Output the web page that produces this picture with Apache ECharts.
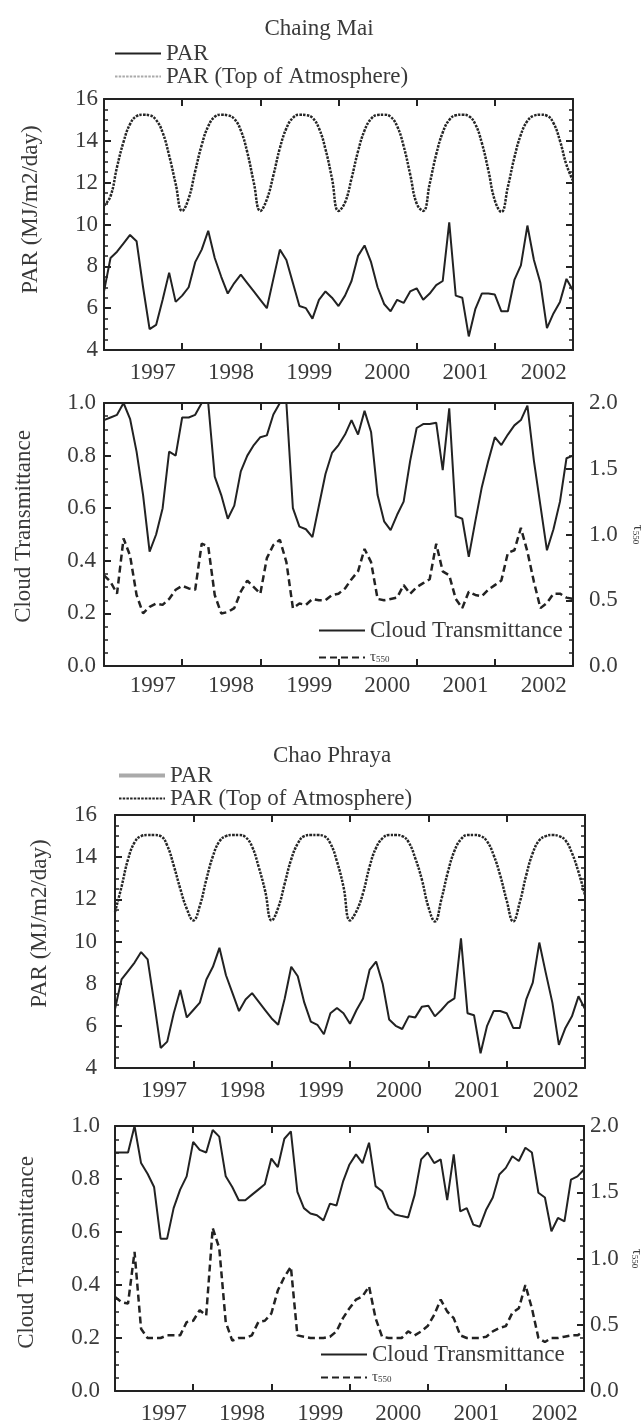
<!DOCTYPE html>
<html>
<head>
<meta charset="utf-8">
<title>PAR and cloud transmittance - Chaing Mai / Chao Phraya</title>
<script src="https://cdn.jsdelivr.net/npm/echarts@6/dist/echarts.min.js"></script>
<style>
  html, body { margin: 0; padding: 0; background: #fff; }
  #chart { width: 643px; height: 1423px; }
</style>
</head>
<body>
<div id="chart"></div>
<script>
// month index, 0 = Jan 1997 ... 72 = Jan 2003
const months = Array.from({ length: 73 }, (_, i) => i)
const yearLabels = ['1997', '1998', '1999', '2000', '2001', '2002']

// ---- Chaing Mai ----
const cmPar = [
  6.8, 8.4, 8.7, 9.1, 9.5, 9.2, 7.0, 5.0, 5.2, 6.4, 7.7, 6.3,
  6.6, 7.0, 8.2, 8.8, 9.7, 8.4, 7.5, 6.7, 7.2, 7.6, 7.2, 6.8,
  6.4, 6.0, 7.4, 8.8, 8.3, 7.2, 6.1, 6.0, 5.5, 6.4, 6.8, 6.5,
  6.1, 6.6, 7.3, 8.5, 9.0, 8.2, 7.0, 6.2, 5.85, 6.4, 6.25, 6.8,
  6.95, 6.4, 6.7, 7.1, 7.3, 10.1, 6.6, 6.5, 4.65, 5.95, 6.7, 6.7,
  6.65, 5.85, 5.85, 7.35, 8.05, 9.95, 8.3, 7.2, 5.05, 5.75, 6.3, 7.4,
  6.85
]
const cmToa = [
  10.9, 11.35, 12.75, 13.95, 14.8, 15.18, 15.25, 15.22, 15.0, 14.4, 13.3, 11.95,
  10.65, 11.25, 12.55, 13.8, 14.7, 15.15, 15.25, 15.22, 15.05, 14.5, 13.45, 12.0,
  10.65, 11.2, 12.35, 13.65, 14.6, 15.1, 15.25, 15.23, 15.1, 14.6, 13.6, 12.2,
  10.65, 11.05, 12.2, 13.5, 14.5, 15.05, 15.24, 15.25, 15.15, 14.7, 13.75, 12.4,
  11.0, 10.65, 11.95, 13.35, 14.4, 15.0, 15.22, 15.25, 15.18, 14.8, 13.9, 12.6,
  11.15, 10.6, 11.8, 13.2, 14.3, 14.95, 15.2, 15.25, 15.2, 14.85, 14.0, 12.85,
  12.1
]
const cmCloud = [
  0.935, 0.945, 0.955, 1.0, 0.94, 0.815, 0.65, 0.435, 0.5, 0.6, 0.815, 0.8,
  0.945, 0.945, 0.955, 1.0, 1.0, 0.72, 0.65, 0.56, 0.61, 0.74, 0.8, 0.84,
  0.87, 0.877, 0.956, 1.0, 1.0, 0.6, 0.53, 0.52, 0.49, 0.61, 0.73, 0.81,
  0.84, 0.88, 0.935, 0.88, 0.97, 0.89, 0.65, 0.55, 0.517, 0.575, 0.625, 0.78,
  0.905, 0.92, 0.92, 0.925, 0.745, 0.98, 0.57, 0.56, 0.415, 0.55, 0.68, 0.78,
  0.87, 0.84, 0.88, 0.915, 0.935, 0.99, 0.78, 0.61, 0.44, 0.52, 0.625, 0.79,
  0.8
]
const cmTau = [
  0.69, 0.64, 0.55, 0.97, 0.84, 0.54, 0.4, 0.45, 0.475, 0.465, 0.51, 0.58,
  0.61, 0.59, 0.58, 0.93, 0.91, 0.54, 0.4, 0.41, 0.44, 0.565, 0.65, 0.6,
  0.55, 0.82, 0.92, 0.96, 0.79, 0.44, 0.475, 0.465, 0.51, 0.5, 0.5, 0.54,
  0.55, 0.59, 0.66, 0.72, 0.89, 0.79, 0.51, 0.5, 0.51, 0.52, 0.615, 0.55,
  0.6, 0.63, 0.66, 0.93, 0.72, 0.69, 0.51, 0.44, 0.565, 0.54, 0.53, 0.58,
  0.615, 0.65, 0.86, 0.88, 1.05, 0.87, 0.64, 0.44, 0.48, 0.55, 0.55, 0.52,
  0.51
]

// ---- Chao Phraya ----
const cpPar = [
  6.8, 8.2, 8.6, 9.0, 9.5, 9.15, 7.1, 4.95, 5.25, 6.6, 7.7, 6.4,
  6.75, 7.1, 8.2, 8.8, 9.7, 8.4, 7.55, 6.7, 7.25, 7.55, 7.15, 6.75,
  6.35, 6.05, 7.3, 8.8, 8.35, 7.1, 6.2, 6.05, 5.6, 6.6, 6.85, 6.6,
  6.1, 6.75, 7.3, 8.65, 9.05, 8.0, 6.3, 6.0, 5.85, 6.45, 6.4, 6.9,
  6.95, 6.45, 6.75, 7.1, 7.3, 10.15, 6.6, 6.5, 4.7, 6.0, 6.7, 6.7,
  6.6, 5.9, 5.9, 7.25, 8.05, 9.95, 8.5, 7.1, 5.1, 5.9, 6.45, 7.4,
  6.8
]
const cpToa = [
  11.4, 12.6, 13.9, 14.7, 15.0, 15.05, 15.05, 15.0, 14.55, 13.6, 12.5, 11.55,
  11.0, 11.7, 12.95, 14.05, 14.75, 15.0, 15.05, 15.05, 14.95, 14.5, 13.55, 12.4,
  11.0, 11.6, 12.75, 13.9, 14.65, 15.0, 15.05, 15.05, 15.0, 14.65, 13.8, 12.6,
  11.0, 11.45, 12.3, 13.55, 14.45, 14.9, 15.05, 15.05, 15.0, 14.7, 13.95, 12.95,
  11.65, 10.95, 12.0, 13.3, 14.3, 14.85, 15.05, 15.05, 15.0, 14.75, 14.1, 13.15,
  11.95, 10.95, 11.85, 13.15, 14.2, 14.8, 15.0, 15.05, 15.0, 14.8, 14.2, 13.3,
  12.2
]
const cpCloud = [
  0.9, 0.9, 0.9, 1.0, 0.86, 0.82, 0.77, 0.575, 0.575, 0.69, 0.76, 0.81,
  0.94, 0.91, 0.9, 0.985, 0.96, 0.81, 0.77, 0.72, 0.72, 0.74, 0.76, 0.78,
  0.877, 0.845, 0.952, 0.98, 0.751, 0.69, 0.67, 0.663, 0.644, 0.707, 0.7, 0.79,
  0.855, 0.893, 0.86, 0.937, 0.773, 0.754, 0.69, 0.666, 0.66, 0.655, 0.74, 0.874,
  0.9, 0.86, 0.874, 0.72, 0.893, 0.678, 0.69, 0.628, 0.62, 0.685, 0.73, 0.817,
  0.842, 0.886, 0.868, 0.918, 0.9, 0.748, 0.73, 0.603, 0.653, 0.64, 0.798, 0.81,
  0.836
]
const cpTau = [
  0.71, 0.67, 0.66, 1.05, 0.47, 0.4, 0.4, 0.4, 0.42, 0.42, 0.42, 0.52,
  0.53, 0.61, 0.57, 1.23, 1.08, 0.52, 0.38, 0.4, 0.4, 0.42, 0.52, 0.53,
  0.585, 0.76, 0.86, 0.937, 0.42, 0.41, 0.4, 0.4, 0.4, 0.41, 0.45, 0.55,
  0.625, 0.69, 0.714, 0.79, 0.55, 0.41, 0.4, 0.4, 0.4, 0.45, 0.42, 0.45,
  0.49, 0.575, 0.69, 0.6, 0.55, 0.42, 0.4, 0.4, 0.4, 0.41, 0.45, 0.475,
  0.49, 0.59, 0.625, 0.8, 0.625, 0.4, 0.37, 0.4, 0.4, 0.41, 0.42, 0.42,
  0.45
]

const FONT = "'Liberation Serif', 'DejaVu Serif', serif"
const INK = '#222'
const TXT = '#3a3a3a'
const tauName = '{t|τ}{s|550}'
const tauRich = {
  t: { fontFamily: FONT, fontSize: 15, color: TXT },
  s: { fontFamily: FONT, fontSize: 9, color: TXT, padding: [5, 0, 0, 0] }
}

// fixed plot boxes; outerBoundsMode none keeps them from shrinking to fit the labels
const grids = [
  { left: 104, top: 99, width: 469, height: 251, outerBoundsMode: 'none', containLabel: false },
  { left: 104, top: 403, width: 469, height: 263, outerBoundsMode: 'none', containLabel: false },
  { left: 115, top: 815, width: 470, height: 253, outerBoundsMode: 'none', containLabel: false },
  { left: 115, top: 1126, width: 469, height: 265, outerBoundsMode: 'none', containLabel: false }
]

const pairs = vals => vals.map((v, i) => [months[i], v])

// x axes: ticks at bottom, ticks at top, year labels (placed mid-year, between the ticks)
const tickAxis = (g, position) => ({
  type: 'value', gridIndex: g, position, min: 0, max: 72, interval: 12,
  axisLine: { show: true, onZero: false, lineStyle: { color: INK, width: 2 } },
  axisTick: { show: true, inside: true, length: 7, lineStyle: { color: INK, width: 2 } },
  axisLabel: { show: false },
  splitLine: { show: false }
})
const yearAt = v => {
  const k = (v - 7.5) / 12
  return Math.abs(k - Math.round(k)) < 1e-6 ? (yearLabels[Math.round(k)] || '') : ''
}
const yearAxis = (g, margin) => ({
  type: 'value', gridIndex: g, position: 'bottom', min: 0, max: 72, interval: 1.5,
  axisLine: { show: false, onZero: false },
  axisTick: { show: false },
  splitLine: { show: false },
  axisLabel: {
    show: true, margin, fontFamily: FONT, fontSize: 23, color: TXT, formatter: yearAt
  }
})

// y axes
const yAxis = (g, position, min, max, interval, split, label) => ({
  type: 'value', gridIndex: g, position, min, max, interval,
  axisLine: { show: true, onZero: false, lineStyle: { color: INK, width: 2 } },
  axisTick: { show: true, inside: true, length: 7, lineStyle: { color: INK, width: 2 } },
  minorTick: { show: true, splitNumber: split, length: 4, lineStyle: { color: INK, width: 1.5 } },
  splitLine: { show: false },
  axisLabel: label
    ? { show: true, margin: label.margin, fontFamily: FONT, fontSize: 23, color: TXT, formatter: label.fmt }
    : { show: false }
})
const intFmt = v => String(v)
const decFmt = v => v.toFixed(1)

const yName = (axis, name, gap, pad) => Object.assign(axis, {
  name, nameLocation: 'middle', nameGap: gap,
  nameTextStyle: { fontFamily: FONT, fontSize: 23, color: TXT, padding: [0, 0, 0, pad] }
})
const tauAxis = (axis, gap) => Object.assign(axis, {
  name: tauName, nameLocation: 'middle', nameGap: gap, nameRotate: -90,
  nameTextStyle: { rich: tauRich }
})

const xAxes = []
grids.forEach((g, i) => {
  xAxes.push(tickAxis(i, 'bottom'), tickAxis(i, 'top'), yearAxis(i, i === 1 ? 8 : 11))
})

const yAxes = [
  yName(yAxis(0, 'left', 4, 16, 2, 4, { margin: 6, fmt: intFmt }), 'PAR (MJ/m2/day)', 62, 30),
  yAxis(0, 'right', 4, 16, 2, 4, null),
  yName(yAxis(1, 'left', 0, 1, 0.2, 4, { margin: 8, fmt: decFmt }), 'Cloud Transmittance', 69, 16),
  tauAxis(yAxis(1, 'right', 0, 2, 0.5, 5, { margin: 16, fmt: decFmt }), 57),
  yName(yAxis(2, 'left', 4, 16, 2, 4, { margin: 18, fmt: intFmt }), 'PAR (MJ/m2/day)', 64, 36),
  yAxis(2, 'right', 4, 16, 2, 4, null),
  yName(yAxis(3, 'left', 0, 1, 0.2, 4, { margin: 15, fmt: decFmt }), 'Cloud Transmittance', 77, 12),
  tauAxis(yAxis(3, 'right', 0, 2, 0.5, 5, { margin: 6, fmt: decFmt }), 42)
]

const parLine = (g, name, data) => ({
  name, type: 'line', xAxisIndex: 3 * g, yAxisIndex: 2 * g, data: pairs(data),
  symbol: 'none', itemStyle: { color: INK }, lineStyle: { color: INK, width: 2 }
})
const toaLine = (g, data) => ({
  name: 'PAR (Top of Atmosphere)', type: 'line', xAxisIndex: 3 * g, yAxisIndex: 2 * g,
  data: pairs(data), symbol: 'none', smooth: 0.45, itemStyle: { color: INK },
  lineStyle: { color: '#262626', width: 2.5, type: [2.5, 1.2] }
})
const cloudLine = (g, data) => ({
  name: 'Cloud Transmittance', type: 'line', xAxisIndex: 3 * g, yAxisIndex: 2 * g,
  data: pairs(data), symbol: 'none', itemStyle: { color: INK }, lineStyle: { color: INK, width: 2 }
})
const tauLine = (g, data) => ({
  name: 'τ550', type: 'line', xAxisIndex: 3 * g, yAxisIndex: 2 * g + 1,
  data: pairs(data), symbol: 'none', itemStyle: { color: INK },
  lineStyle: { color: INK, width: 2.5, type: [7, 4] }
})

const legendBase = {
  orient: 'vertical', selectedMode: false, padding: 0, itemWidth: 46, itemHeight: 12,
  // hide the marker drawn in the middle of the legend line
  itemStyle: { color: 'rgba(0,0,0,0)', borderColor: 'rgba(0,0,0,0)', borderWidth: 0, opacity: 0 },
  textStyle: { fontFamily: FONT, fontSize: 23, color: TXT, rich: tauRich },
  formatter: name => (name === 'τ550' ? tauName : name)
}

const option = {
  animation: false,
  backgroundColor: '#fff',
  title: [
    { text: 'Chaing Mai', left: 314, top: 12, textAlign: 'center',
      textStyle: { fontFamily: FONT, fontSize: 23, fontWeight: 'normal', color: TXT } },
    { text: 'Chao Phraya', left: 327, top: 739, textAlign: 'center',
      textStyle: { fontFamily: FONT, fontSize: 23, fontWeight: 'normal', color: TXT } }
  ],
  legend: [
    Object.assign({}, legendBase, {
      left: 114, top: 42, itemGap: 0,
      data: ['PAR', { name: 'PAR (Top of Atmosphere)', lineStyle: { color: '#aaa', width: 2 } }]
    }),
    Object.assign({}, legendBase, {
      left: 318, top: 619, itemGap: 8,
      data: ['Cloud Transmittance', 'τ550']
    }),
    Object.assign({}, legendBase, {
      left: 117, top: 764, itemGap: 0,
      data: [{ name: 'PAR', lineStyle: { color: '#aaa', width: 4 } }, 'PAR (Top of Atmosphere)']
    }),
    Object.assign({}, legendBase, {
      left: 320, top: 1343, itemGap: 4,
      data: ['Cloud Transmittance', 'τ550']
    })
  ],
  grid: grids,
  xAxis: xAxes,
  yAxis: yAxes,
  series: [
    toaLine(0, cmToa),
    parLine(0, 'PAR', cmPar),
    cloudLine(1, cmCloud),
    tauLine(1, cmTau),
    toaLine(2, cpToa),
    parLine(2, 'PAR', cpPar),
    cloudLine(3, cpCloud),
    tauLine(3, cpTau)
  ]
}

const chart = echarts.init(document.getElementById('chart'), null, { renderer: 'canvas' })
chart.setOption(option)
</script>
</body>
</html>
